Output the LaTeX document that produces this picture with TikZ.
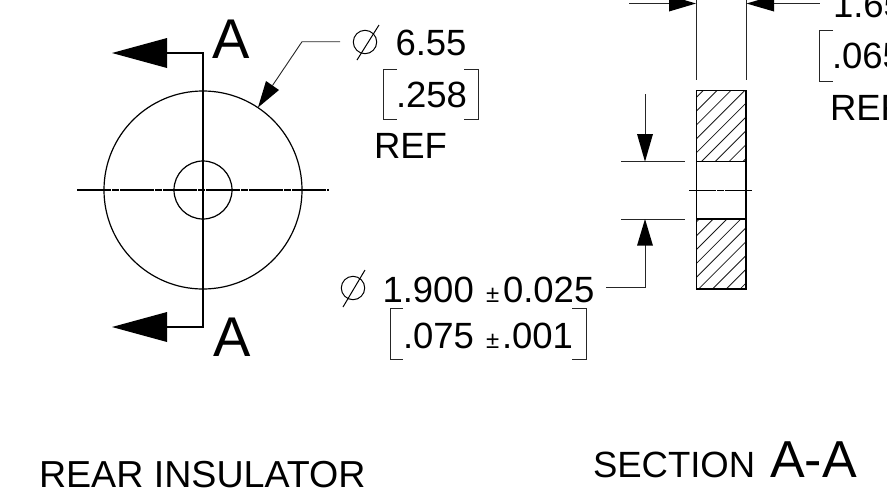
\documentclass[tikz,border=0pt]{standalone}
\usepackage{fontspec}
\setmainfont{Liberation Sans}
\newcommand{\fs}[1]{\fontsize{#1}{#1}\selectfont}
\tikzset{
  x=1pt,y=-1pt,
  lbl/.style={anchor=base west,inner sep=0pt,outer sep=0pt,font=\fs{36.5}},
  bigA/.style={anchor=base west,inner sep=0pt,outer sep=0pt,font=\fs{56}},
  thin line/.style={line width=0.9pt,black!85},
  obj/.style={line width=1.2pt},
  heavy/.style={line width=1.5pt},
  center line/.style={line width=1.1pt,dash pattern=on 34pt off 1pt on 7pt off 1pt},
  hatch/.style={line width=0.8pt,black!90},
  head/.style={fill=black,draw=none},
}
\begin{document}
\begin{tikzpicture}
\useasboundingbox (0,0) rectangle (887,491);
\clip (0,0) rectangle (887,491);
% ---- front view
\node[circle,draw,obj,minimum size=198pt,inner sep=0pt] (outer) at (203,190) {};
\node[circle,draw,obj,minimum size=58pt,inner sep=0pt] (hole) at (203,190) {};
\coordinate (hL) at (77,190); \coordinate (hR) at (329,190);
\draw[center line] (hL) -- (hR);
\coordinate (cutT) at (203,53); \coordinate (cutB) at (203,327);
\coordinate (cutTa) at (167,53); \coordinate (cutBa) at (167,327);
\draw[heavy] (cutTa) -- (cutT) -- (cutB) -- (cutBa);
\draw[head] (112,53) -- (167,38) -- (167,68) -- cycle;
\draw[head] (112,327) -- (167,312) -- (167,342) -- cycle;
\node[bigA] (At) at (212.5,58) {A};
\node[bigA] (Ab) at (213.5,356) {A};
% ---- 6.55 callout
\coordinate (l1) at (340,41.7); \coordinate (l2) at (302,41.7); \coordinate (l3) at (272.5,85.5);
\draw[thin line] (l1) -- (l2) -- (l3);
\draw[head] (258,107.5) -- (266,81) -- (279,90) -- cycle;
\draw[line width=1pt] (365,42) circle (11.7);
\draw[line width=1pt] (357,60) -- (379,25);
\node[lbl] (d1) at (395.5,55) {6.55};
\node[lbl] (d2) at (396,107) {.258};
\node[lbl] (d3) at (374,158) {REF};
\draw[thin line] (397,69) -| (383,119) -- (397,119);
\draw[thin line] (464,69) -| (478,119) -- (464,119);
% ---- section
\foreach \yy/\yb in {90.7/161.7,219/289}{
  \begin{scope}
    \clip (696.5,\yy) rectangle (746,\yb);
    \foreach \k in {0,...,25}{
      \pgfmathsetmacro{\s}{793.7+13.85*\k}
      \draw[hatch] (\s+100,-100) -- (\s-500,500);
    }
  \end{scope}
}
\draw[heavy] (696.5,90.7) rectangle (746,289);
\draw[obj] (696.5,161.7) -- (746,161.7);
\draw[obj] (696.5,219) -- (746,219);
\coordinate (sL) at (689,190); \coordinate (sR) at (752,190);
\draw[line width=1pt,dash pattern=on 27pt off 1pt on 7pt off 1pt] (sL) -- (sR);
% top dimension
\coordinate (e1a) at (696.5,0); \coordinate (e1b) at (696.5,80);
\coordinate (e2a) at (746,0); \coordinate (e2b) at (746,80);
\draw[thin line] (e1a) -- (e1b); \draw[thin line] (e2a) -- (e2b);
\coordinate (t1) at (629,3.5); \coordinate (t2) at (669,3.5);
\coordinate (t3) at (774,3.5); \coordinate (t4) at (820,3.5);
\draw[thin line] (t1) -- (t2); \draw[thin line] (t3) -- (t4);
\draw[head] (696,3.5) -- (669,-4.5) -- (669,11.5) -- cycle;
\draw[head] (746.5,3.5) -- (774,-4.5) -- (774,11.5) -- cycle;
\node[lbl] (w1) at (833,17) {1.65};
\node[lbl] (w2) at (832,68) {.065};
\node[lbl] (w3) at (830,120) {REF};
\draw[thin line] (833,30) -| (819,81) -- (833,81);
% bore dimension
\coordinate (b1a) at (621,161.7); \coordinate (b1b) at (685,161.7);
\coordinate (b2a) at (621,219); \coordinate (b2b) at (685,219);
\draw[thin line] (b1a) -- (b1b); \draw[thin line] (b2a) -- (b2b);
\coordinate (a1) at (645,94); \coordinate (a2) at (645,134);
\draw[thin line] (a1) -- (a2);
\draw[head] (645,161.7) -- (637,134) -- (653,134) -- cycle;
\coordinate (a3) at (645,245); \coordinate (a4) at (645,287.7); \coordinate (a5) at (606,287.7);
\draw[thin line] (a3) -- (a4) -- (a5);
\draw[head] (645,219) -- (637,245.7) -- (653,245.7) -- cycle;
% 1.900 callout
\draw[line width=1pt] (353,288) circle (11.7);
\draw[line width=1pt] (343,307) -- (365,270);
\node[lbl] (n1) at (382.5,302) {1.900};
\node[lbl,font=\fs{24}] (n2) at (486,302) {±};
\node[lbl] (n3) at (503,302) {0.025};
\node[lbl] (n4) at (403,348) {.075};
\node[lbl,font=\fs{24}] (n5) at (486,348) {±};
\node[lbl] (n6) at (502,348) {.001};
\draw[thin line] (403,308) -| (390,359) -- (403,359);
\draw[thin line] (572,308) -| (586,359) -- (572,359);
% titles
\node[lbl,font=\fs{37.6}] (title1) at (39,487) {REAR INSULATOR};
\node[lbl,font=\fs{36.5}] (title2) at (593,477) {SECTION};
\node[lbl,font=\fs{52}] (title3) at (770,477) {A-A};
\end{tikzpicture}
\end{document}
